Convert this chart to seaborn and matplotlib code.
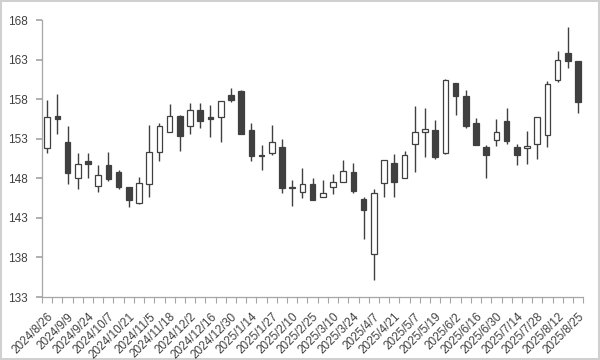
import matplotlib
matplotlib.use("Agg")
import matplotlib.pyplot as plt
import seaborn as sns
import numpy as np

# weekly candles, 2024/8/26 .. 2025/8/25
dates = ["2024/8/26", "2024/9/2", "2024/9/9", "2024/9/17", "2024/9/24", "2024/9/30",
         "2024/10/7", "2024/10/15", "2024/10/21", "2024/10/28", "2024/11/5", "2024/11/11",
         "2024/11/18", "2024/11/25", "2024/12/2", "2024/12/9", "2024/12/16", "2024/12/23",
         "2024/12/30", "2025/1/6", "2025/1/14", "2025/1/20", "2025/1/27", "2025/2/3",
         "2025/2/10", "2025/2/17", "2025/2/25", "2025/3/3", "2025/3/10", "2025/3/17",
         "2025/3/24", "2025/3/31", "2025/4/7", "2025/4/14", "2025/4/21", "2025/4/28",
         "2025/5/7", "2025/5/12", "2025/5/19", "2025/5/26", "2025/6/2", "2025/6/9",
         "2025/6/16", "2025/6/23", "2025/6/30", "2025/7/7", "2025/7/14", "2025/7/22",
         "2025/7/28", "2025/8/4", "2025/8/12", "2025/8/18", "2025/8/25"]

open_ = [151.9, 155.9, 152.6, 148.1, 150.2, 147.0, 149.7, 148.8, 146.9, 144.9,
         147.3, 151.3, 153.9, 155.9, 154.6, 156.7, 155.8, 155.7, 158.5, 159.1,
         154.1, 150.95, 151.2, 152.0, 146.95, 146.3, 147.3, 145.7, 146.9, 147.6,
         148.8, 145.4, 138.4, 147.4, 150.0, 148.0, 152.3, 153.8, 154.1, 151.2,
         160.0, 158.4, 155.0, 152.0, 152.8, 155.3, 152.0, 151.8, 152.3, 153.5,
         160.4, 163.9, 162.8]
high = [157.9, 158.7, 154.6, 151.2, 151.2, 149.7, 151.3, 149.1, 146.9, 148.2,
        154.7, 155.0, 157.4, 156.0, 157.5, 157.5, 157.3, 157.8, 159.4, 159.2,
        155.0, 152.2, 154.7, 153.0, 147.8, 149.3, 148.0, 147.8, 148.5, 150.3,
        150.0, 145.7, 146.7, 150.3, 151.1, 151.4, 157.1, 156.9, 155.4, 160.5,
        160.1, 159.2, 155.6, 152.2, 155.5, 156.9, 152.3, 154.0, 155.8, 160.3,
        164.1, 167.1, 162.8]
low = [151.2, 153.6, 147.3, 146.6, 148.1, 146.3, 147.7, 146.7, 144.4, 144.8,
       145.7, 150.2, 153.8, 151.4, 153.6, 154.4, 153.2, 152.6, 157.6, 153.6,
       150.2, 149.0, 151.0, 146.1, 144.5, 145.5, 145.3, 145.6, 146.0, 147.5,
       146.2, 140.3, 135.2, 145.7, 145.7, 148.0, 148.8, 150.7, 150.4, 151.1,
       156.0, 154.4, 152.2, 148.0, 152.1, 152.3, 149.7, 149.8, 150.5, 152.0,
       160.2, 162.0, 156.2]
close = [155.7, 155.5, 148.7, 149.8, 149.8, 148.4, 147.9, 146.9, 145.3, 147.4,
         151.3, 154.6, 155.9, 153.3, 156.7, 155.2, 155.5, 157.8, 157.9, 153.6,
         150.8, 150.8, 152.6, 146.8, 146.8, 147.3, 145.3, 146.1, 147.6, 148.9,
         146.4, 144.0, 146.2, 150.3, 147.5, 151.0, 153.8, 154.2, 150.7, 160.4,
         158.4, 154.6, 152.2, 150.9, 153.8, 152.7, 150.9, 152.1, 155.8, 159.9,
         162.9, 162.8, 157.7]

yticks = [133, 138, 143, 148, 153, 158, 163, 168]

sns.set_theme(style="white")
plt.rcParams['font.family'] = ['Liberation Sans', 'DejaVu Sans']

o = np.array(open_)
c = np.array(close)
x = np.arange(len(dates))
up = c >= o
dark = "#404040"

fig = plt.figure(figsize=(6, 3.6), dpi=100, facecolor="white",
                 edgecolor="#d0d0d0", linewidth=1.5)
ax = fig.add_axes([0.07, 0.175, 0.902, 0.769])

# wicks
ax.vlines(x, low, high, color=dark, linewidth=1, zorder=1)
# bodies
body = np.maximum(np.abs(c - o), 0.12)
bottom = np.minimum(o, c)
ax.bar(x[up], body[up], bottom=bottom[up], width=0.55,
       facecolor="white", edgecolor=dark, linewidth=0.9, zorder=2)
ax.bar(x[~up], body[~up], bottom=bottom[~up], width=0.55,
       facecolor=dark, edgecolor=dark, linewidth=0.9, zorder=2)

ax.set_xlim(-0.5, len(dates) - 0.5)
ax.set_ylim(133, 168)
ax.set_yticks(yticks)
ax.set_yticklabels([str(t) for t in yticks])

ax.set_xticks(x[::2])
ax.set_xticklabels(dates[::2], rotation=45, ha="right", va="top",
                   rotation_mode="anchor")
ax.set_xticks(np.arange(len(dates) + 1) - 0.5, minor=True)

sns.despine(ax=ax, top=True, right=True)
for s in ["left", "bottom"]:
    ax.spines[s].set_color("#a6a6a6")
    ax.spines[s].set_linewidth(0.9)

ax.tick_params(axis="y", which="major", left=True, length=4, color="#a6a6a6",
               labelsize=8.5, labelcolor="#404040", pad=6)
ax.tick_params(axis="x", which="major", bottom=False, labelsize=8.5,
               labelcolor="#404040", pad=4)
ax.tick_params(axis="x", which="minor", bottom=True, length=4,
               color="#a6a6a6", width=0.8)

fig.savefig("out.png", dpi=100, facecolor="white", edgecolor=fig.get_edgecolor())
